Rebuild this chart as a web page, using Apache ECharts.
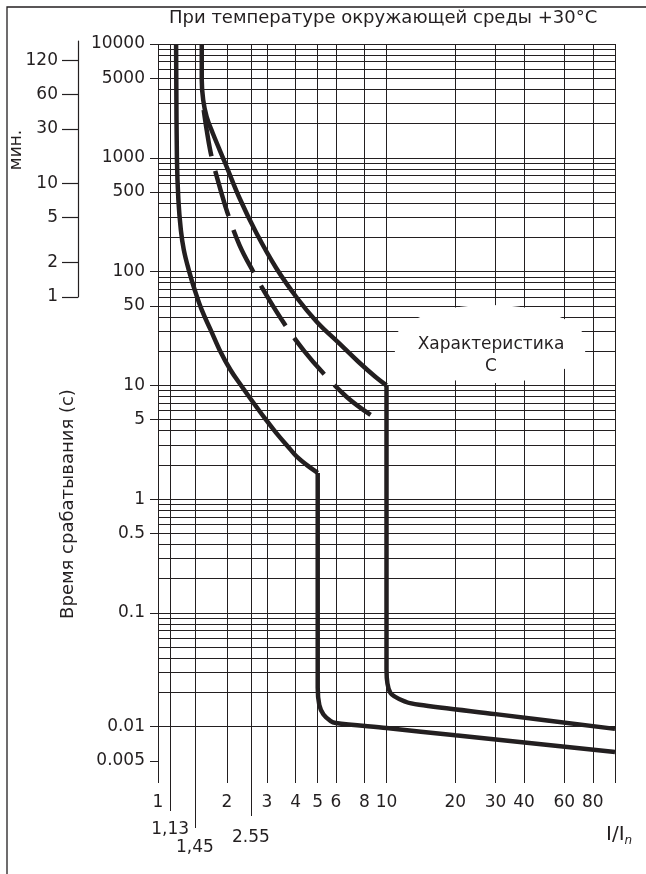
<!DOCTYPE html>
<html>
<head>
<meta charset="utf-8">
<script src="https://cdn.jsdelivr.net/npm/echarts@6/dist/echarts.min.js"></script>
<style>
  html, body { margin: 0; padding: 0; background: #fff; }
  #chart { width: 646px; height: 874px; }
</style>
</head>
<body>
<div id="chart"></div>
<script type="text/javascript">
	// --- data: [I/In, t (s)] ---
	var leftCurveTop = [ [1.2, 10000], [1.21, 1000], [1.228, 426], [1.259, 232], [1.297, 155], [1.364, 103],
		[1.448, 68.9], [1.554, 46], [1.7, 30.7], [1.86, 20.5], [2.077, 13.65], [2.319, 9.88], [2.563, 7.44],
		[2.949, 5.07], [3.29, 3.82], [3.81, 2.71], [4.06, 2.35], [4.47, 2.0], [5, 1.7] ];
	var leftCurveBottom = [ [5, 1.7], [5, 0.022], [5.08, 0.0155], [5.3, 0.0128], [5.7, 0.0112], [6, 0.0108],
		[10, 0.00975], [20, 0.0084], [100, 0.006] ];
	var rightCurveTop = [ [1.554, 10000], [1.554, 4828], [1.577, 3220], [1.633, 2283], [1.735, 1651], [1.975, 882],
		[2.273, 443], [2.695, 218], [3.29, 107.5], [4.06, 58.6], [4.96, 36.1], [6.18, 23.6], [7.55, 16.05],
		[8.96, 11.85], [10, 10] ];
	var rightCurveBottom = [ [10, 10], [10, 0.032], [10.4, 0.0198], [12.2, 0.0165], [13.9, 0.0156],
		[30, 0.0129], [100, 0.00957] ];
	var dashedCurve = [ [1.585, 2630], [1.633, 1755], [1.691, 1171], [1.752, 864], [1.879, 521], [2.015, 327],
		[2.273, 171], [2.615, 99.2], [3.069, 56.3], [3.6, 34], [4.357, 20.1], [5.27, 12.9], [6.7, 7.91], [8.52, 5.5] ];

	// --- axes ---
	var xGridValues = [ 1, 1.13, 1.45, 2, 2.55, 3, 4, 5, 6, 8, 10, 20, 30, 40, 60, 80, 100 ];
	var xMainTicks = [ 1, 2, 3, 4, 5, 6, 8, 10, 20, 30, 40, 60, 80, 100 ];
	var xMainLabels = [ 1, 2, 3, 4, 5, 6, 8, 10, 20, 30, 40, 60, 80 ];
	var xExtraTicks = [ 1.13, 1.45, 2.55 ];
	var xExtraTexts = [ '1,13', '1,45', '2.55' ];
	var yGridValues = [
		0.004, 0.005, 0.006, 0.007, 0.008, 0.009,
		0.01, 0.02, 0.03, 0.04, 0.05, 0.06, 0.07, 0.08, 0.09,
		0.1, 0.2, 0.3, 0.4, 0.5, 0.6, 0.7, 0.8, 0.9,
		1, 2, 3, 4, 5, 6, 7, 8, 9,
		10, 20, 30, 40, 50, 60, 70, 80, 90,
		100, 200, 300, 400, 500, 600, 700, 800, 900,
		1000, 2000, 3000, 4000, 5000, 6000, 7000, 8000, 9000, 10000 ];
	var ySecLabels = [ 0.005, 0.01, 0.1, 0.5, 1, 5, 10, 50, 100, 500, 1000, 5000, 10000 ];
	var yMinLabels = [ 1, 2, 5, 10, 30, 60, 120 ];

	var ink = '#231f20';
	var font = 'DejaVu Sans';
	var fs = 17;

	function extraAxis(i, tickLen, margin) {
		return {
			type : 'log', gridIndex : 0, position : 'bottom', min : 1, max : 100,
			axisLine : { show : false },
			splitLine : { show : false },
			axisTick : { show : true, customValues : [ xExtraTicks[i] ], length : tickLen,
				lineStyle : { color : ink, width : 1 } },
			axisLabel : { customValues : [ xExtraTicks[i] ], margin : margin, color : ink,
				fontSize : fs, fontFamily : font,
				formatter : function() { return xExtraTexts[i]; } }
		};
	}

	function curve(data, smooth, extra) {
		return {
			type : 'line', xAxisIndex : 0, yAxisIndex : 0, data : data,
			showSymbol : false, symbol : 'none', smooth : smooth, z : 5, silent : true,
			lineStyle : Object.assign({ color : ink, width : 4.5 }, extra || {})
		};
	}

	var option = {
		animation : false,
		title : {
			text : 'При температуре окружающей среды +30°C',
			left : 169, top : 9, padding : 0,
			textStyle : { fontSize : 18, fontWeight : 'normal', fontFamily : font, color : ink }
		},
		grid : [
			{ left : 158, top : 44, width : 457, height : 728 },
			{ left : 78, top : 41, width : 1, height : 256 }
		],
		xAxis : [ {
			type : 'log', gridIndex : 0, position : 'bottom', min : 1, max : 100,
			axisLine : { show : false },
			splitLine : { show : false },
			axisTick : { customValues : xMainTicks, length : 11, lineStyle : { color : ink, width : 1 } },
			axisLabel : { customValues : xMainLabels, margin : 22, color : ink, fontSize : fs, fontFamily : font,
				formatter : function(v) { return String(v); } }
		},
		extraAxis(0, 39, 49),
		extraAxis(1, 56, 67),
		extraAxis(2, 44, 57),
		{ type : 'value', gridIndex : 1, show : false, min : 0, max : 1 } ],
		yAxis : [ {
			type : 'log', gridIndex : 0, min : 0.004, max : 10000,
			axisLine : { show : false },
			splitLine : { show : false },
			axisTick : { customValues : ySecLabels, length : 8, lineStyle : { color : ink, width : 1 } },
			axisLabel : { customValues : ySecLabels, margin : 13, color : ink, fontSize : fs, fontFamily : font,
				formatter : function(v) { return String(v); } }
		}, {
			type : 'log', gridIndex : 1, min : 1, max : 177,
			axisLine : { show : true, lineStyle : { color : ink, width : 1.2 } },
			splitLine : { show : false },
			axisTick : { customValues : yMinLabels, length : 16, lineStyle : { color : ink, width : 1.2 } },
			axisLabel : { customValues : yMinLabels, margin : 20, color : ink, fontSize : fs, fontFamily : font,
				formatter : function(v) { return String(v); } }
		} ],
		graphic : [
			{ type : 'rect', shape : { x : 7, y : 7, width : 700, height : 900 },
				style : { fill : 'none', stroke : ink, lineWidth : 1.3 }, z : 100, silent : true },
			{ type : 'text', x : 17, y : 150, rotation : Math.PI / 2, z : 100,
				style : { text : 'мин.', fontSize : fs, fontFamily : font, fill : ink,
					align : 'center', verticalAlign : 'middle' } },
			{ type : 'text', x : 68, y : 504, rotation : Math.PI / 2, z : 100,
				style : { text : 'Время срабатывания (с)', fontSize : 18, fontFamily : font, fill : ink,
					align : 'center', verticalAlign : 'middle' } },
			{ type : 'ellipse', shape : { cx : 490, cy : 344, rx : 97, ry : 39 },
				style : { fill : '#fff' }, z : 100, silent : true },
			{ type : 'text', x : 491, y : 356, z : 101,
				style : { text : 'Характеристика\nC', fontSize : fs, fontFamily : font, fill : ink,
					lineHeight : 22, align : 'center', verticalAlign : 'middle' } },
			{ type : 'text', x : 606, y : 835, z : 101,
				style : { text : '{a|I/I}{b|n}', fill : ink, verticalAlign : 'middle',
					rich : { a : { fontSize : 20, fontFamily : font, fill : ink },
						b : { fontSize : 12, fontFamily : font, fontStyle : 'italic', fill : ink, padding : [ 12, 0, 0, 0 ] } } } }
		],
		series : [ {
			// grid of the log-log paper
			type : 'line', xAxisIndex : 0, yAxisIndex : 0, data : [ [ 1, 10000 ] ],
			showSymbol : false, symbol : 'none', lineStyle : { width : 0 }, z : 1, silent : true,
			markLine : {
				symbol : [ 'none', 'none' ], silent : true, animation : false,
				label : { show : false }, emphasis : { disabled : true },
				lineStyle : { color : ink, width : 1, type : 'solid' },
				data : xGridValues.map(function(v) { return { xAxis : v }; })
					.concat(yGridValues.map(function(v) { return { yAxis : v }; }))
			}
		},
		curve(leftCurveTop, 0.4),
		curve(leftCurveBottom, 0.3),
		curve(rightCurveTop, 0.4),
		curve(rightCurveBottom, 0.3),
		curve(dashedCurve, 0.4, { type : [ 47, 15 ], cap : 'butt' }) ]
	};

	var chart = echarts.init(document.getElementById('chart'));
	chart.setOption(option);
</script>
</body>
</html>
